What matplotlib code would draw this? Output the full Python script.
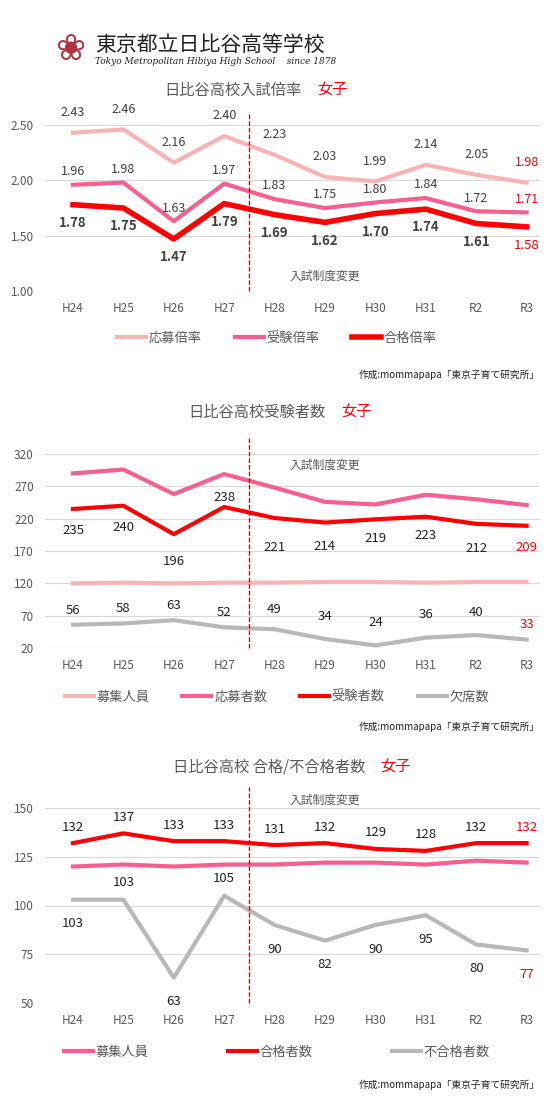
import matplotlib.pyplot as plt
import numpy as np

plt.rcParams['font.family'] = ['Noto Sans CJK JP', 'DejaVu Sans']

years = ['H24', 'H25', 'H26', 'H27', 'H28', 'H29', 'H30', 'H31', 'R2', 'R3']

# panel 1: rates
oubo_rate = [2.43, 2.46, 2.16, 2.40, 2.23, 2.03, 1.99, 2.14, 2.05, 1.98]
juken_rate = [1.96, 1.98, 1.63, 1.97, 1.83, 1.75, 1.80, 1.84, 1.72, 1.71]
goukaku_rate = [1.78, 1.75, 1.47, 1.79, 1.69, 1.62, 1.70, 1.74, 1.61, 1.58]

# panel 2: counts
boshu = [120, 121, 120, 121, 121, 122, 122, 121, 122, 122]
oubo = [290, 296, 258, 289, 268, 246, 242, 257, 250, 241]
juken = [235, 240, 196, 238, 221, 214, 219, 223, 212, 209]
kesseki = [56, 58, 63, 52, 49, 34, 24, 36, 40, 33]

# panel 3
boshu3 = [120, 121, 120, 121, 121, 122, 122, 121, 123, 122]
goukaku = [132, 137, 133, 133, 131, 132, 129, 128, 132, 132]
fugoukaku = [103, 103, 63, 105, 90, 82, 90, 95, 80, 77]

W, H = 554, 1101
fig = plt.figure(figsize=(W / 100, H / 100), dpi=100)

PINK_L = '#f8b4b4'
PINK = '#f5608f'
RED = '#ff0000'
GRAY = '#b8b8b8'
TXT = '#595959'

x = np.arange(len(years))
x0 = -(73 - 45) / 50.4
x1 = x0 + 495 / 50.4


def make_ax(top, bottom, ymin, ymax, step, yfmt):
    ax = fig.add_axes([45 / W, 1 - bottom / H, 495 / W, (bottom - top) / H])
    ax.set_xlim(x0, x1)
    ax.set_ylim(ymin, ymax)
    ax.set_yticks(np.arange(ymin, ymax + step / 2, step))
    ax.yaxis.set_major_formatter(yfmt)
    ax.set_xticks(x)
    ax.set_xticklabels(years)
    ax.tick_params(length=0, colors=TXT, labelsize=8.5, pad=8)
    ax.grid(axis='y', color='#d9d9d9', lw=0.8)
    for s in ax.spines.values():
        s.set_visible(False)
    return ax


def title(y, main, xr):
    fig.text(xr / W, 1 - y / H, main, ha='right', va='center', fontsize=11, color=TXT)
    fig.text((xr + 15) / W, 1 - y / H, '女子', ha='left', va='center', fontsize=11, color=RED)


def credit(y):
    fig.text(540 / W, 1 - y / H, '作成:mommapapa「東京子育て研究所」', ha='right',
             va='center', fontsize=7, color='#222222')


def legend(ax, y, ncol, gap):
    ax.legend(loc='center', bbox_to_anchor=(0.5, 1 - y / H), bbox_transform=fig.transFigure,
              ncol=ncol, frameon=False, fontsize=9.5, labelcolor=TXT, handlelength=2.2,
              handletextpad=0.2, columnspacing=gap)


# header
fig.text(95 / W, 1 - 45 / H, '東京都立日比谷高等学校', fontsize=15, va='center', color='#222222')
fig.text(95 / W, 1 - 62 / H, 'Tokyo Metropolitan Hibiya High School    since 1878',
         fontsize=6.5, va='center', style='italic', family='DejaVu Serif', color='#222222')
fig.text(70 / W, 1 - 50 / H, '❀', fontsize=26, ha='center', va='center', color='#b03040',
         family='DejaVu Sans')

# ---- panel 1
ax = make_ax(125, 291, 1.0, 2.5, 0.5, '{x:.2f}')
ax.plot(x, oubo_rate, color=PINK_L, lw=3, label='応募倍率')
ax.plot(x, juken_rate, color=PINK, lw=3, label='受験倍率')
ax.plot(x, goukaku_rate, color=RED, lw=4, label='合格倍率')
for i in x:
    c = RED if i == 9 else '#404040'
    ax.annotate(f'{oubo_rate[i]:.2f}', (i, oubo_rate[i]), xytext=(0, 12), textcoords='offset points',
                ha='center', fontsize=9, color=c, annotation_clip=False)
    ax.annotate(f'{juken_rate[i]:.2f}', (i, juken_rate[i]), xytext=(0, 7), textcoords='offset points',
                ha='center', fontsize=9, color=c)
    ax.annotate(f'{goukaku_rate[i]:.2f}', (i, goukaku_rate[i]), xytext=(0, -16), textcoords='offset points',
                ha='center', fontsize=9.5, color=c, fontweight='normal' if i == 9 else 'bold')
ax.plot([3.5, 3.5], [1.0, 2.6], ls='--', color='#c00000', lw=0.9, clip_on=False)
ax.text(5.0, 1.13, '入試制度変更', ha='center', va='center', fontsize=8.5, color=TXT)
legend(ax, 338, 3, 2.5)
title(90, '日比谷高校入試倍率', 302)
credit(375)

# ---- panel 2
ax = make_ax(454, 648, 20, 320, 50, '{x:.0f}')
ax.plot(x, boshu, color=PINK_L, lw=3, label='募集人員')
ax.plot(x, oubo, color=PINK, lw=3, label='応募者数')
ax.plot(x, juken, color=RED, lw=3, label='受験者数')
ax.plot(x, kesseki, color=GRAY, lw=3, label='欠席数')
juk_off = [-18, -18, -22, 4, -24, -20, -16, -16, -20, -18]
kes_off = [8, 8, 8, 8, 12, 8, 8, 8, 8, 8]
for i in x:
    c = RED if i == 9 else '#222222'
    ax.annotate(str(juken[i]), (i, juken[i]), xytext=(0, juk_off[i]), textcoords='offset points',
                ha='center', fontsize=9.5, color=c)
    ax.annotate(str(kesseki[i]), (i, kesseki[i]), xytext=(0, kes_off[i] + (6 if i in (5, 6, 7, 8) else 0)),
                textcoords='offset points', ha='center', fontsize=9.5, color=c)
ax.plot([3.5, 3.5], [20, 345], ls='--', color='#c00000', lw=0.9, clip_on=False)
ax.text(5.0, 302, '入試制度変更', ha='center', va='center', fontsize=8.5, color=TXT)
legend(ax, 697, 4, 2.5)
title(412, '日比谷高校受験者数', 326)
credit(727)

# ---- panel 3
ax = make_ax(808, 1003, 50, 150, 25, '{x:.0f}')
ax.plot(x, boshu3, color=PINK, lw=3, label='募集人員')
ax.plot(x, goukaku, color=RED, lw=3, label='合格者数')
ax.plot(x, fugoukaku, color=GRAY, lw=3, label='不合格者数')
fug_off = [-20, 10, -20, 10, -20, -20, -20, -20, -20, -20]
for i in x:
    c = RED if i == 9 else '#222222'
    ax.annotate(str(goukaku[i]), (i, goukaku[i]), xytext=(0, 9), textcoords='offset points',
                ha='center', fontsize=9.5, color=c)
    ax.annotate(str(fugoukaku[i]), (i, fugoukaku[i]), xytext=(0, fug_off[i]), textcoords='offset points',
                ha='center', fontsize=9.5, color=c)
ax.plot([3.5, 3.5], [50, 161], ls='--', color='#c00000', lw=0.9, clip_on=False)
ax.text(5.0, 154, '入試制度変更', ha='center', va='center', fontsize=8.5, color=TXT)
legend(ax, 1052, 3, 6)
title(767, '日比谷高校 合格/不合格者数', 365)
credit(1085)

fig.savefig('out.png', dpi=100, facecolor='white')
